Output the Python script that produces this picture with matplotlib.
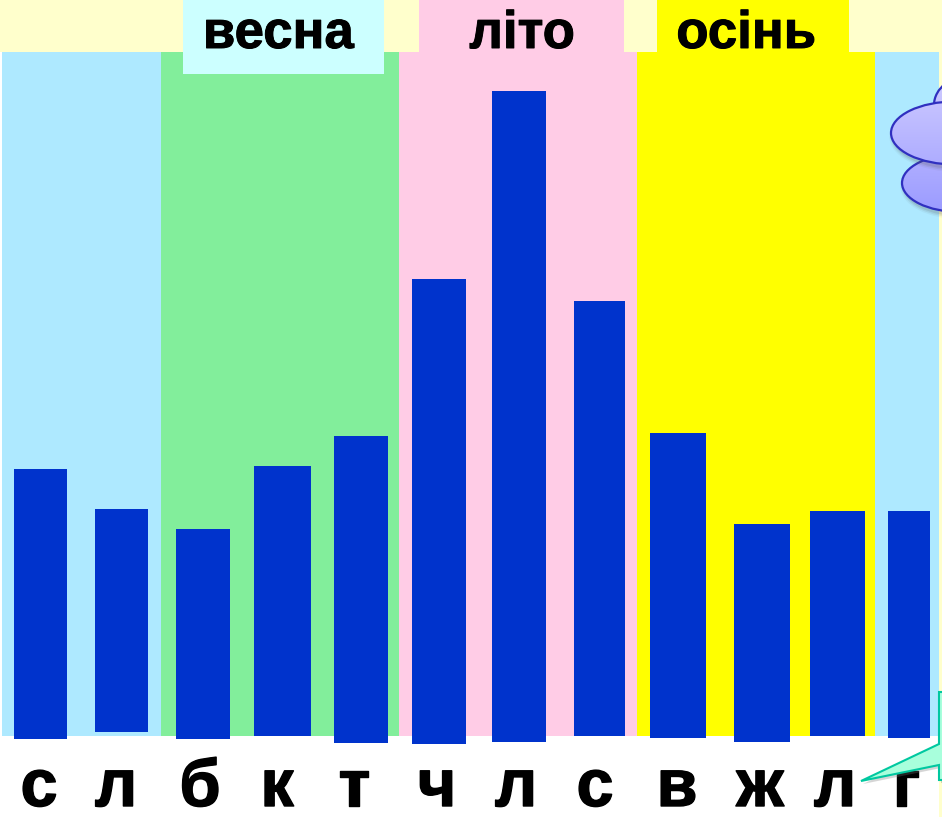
import numpy as np
import matplotlib
matplotlib.use("Agg")
import matplotlib.pyplot as plt
import matplotlib.patheffects as pe
from matplotlib.patches import Ellipse, Polygon, Rectangle

plt.rcParams["font.family"] = ["Liberation Sans", "DejaVu Sans"]

letters = ["с", "л", "б", "к", "т", "ч", "л", "с", "в", "ж", "л", "г"]
bar_heights = [270, 223, 210, 270, 307, 465, 651, 435, 305, 218, 225, 227]
seasons = ["весна", "літо", "осінь"]

# layout, in pixels of the picture
bar_left = [14, 95, 176, 254, 334, 412, 492, 574, 650, 734, 810, 888]
bar_width = [53, 53, 54, 57, 54, 54, 54, 51, 56, 56, 55, 42]
bar_bottom = [739, 732, 739, 736, 743, 744, 742, 736, 738, 742, 736, 738]
letter_x = [39, 116, 200, 277, 354, 437, 516, 595, 677, 760, 835, 906]

band_edges = [2, 161, 399, 637, 875, 939]
band_colors = ["#AEE9FF", "#82EE9B", "#FFCCE6", "#FFFF00", "#AEE9FF"]
label_boxes = [(183, 384, 74, "#CCFFFF"), (419, 624, 52, "#FFCCE6"), (657, 849, 52, "#FFFF00")]
label_x = [278, 522, 746]

fig = plt.figure(figsize=(9.42, 8.17), dpi=100)
ax = fig.add_axes([0, 0, 1, 1])
ax.set_xlim(0, 942)
ax.set_ylim(817, 0)
ax.axis("off")

# top strip and right edge
ax.add_patch(Rectangle((0, 0), 942, 52, color="#FFFFCC", lw=0, zorder=1))
ax.add_patch(Rectangle((939, 0), 3, 817, color="#FFFFCC", lw=0, zorder=1))

# season bands
for i, c in enumerate(band_colors):
    ax.add_patch(Rectangle((band_edges[i], 52), band_edges[i + 1] - band_edges[i], 684,
                           color=c, lw=0, zorder=2))

# season labels
for (x0, x1, y1, c), name, x in zip(label_boxes, seasons, label_x):
    ax.add_patch(Rectangle((x0, 0), x1 - x0, y1, color=c, lw=0, zorder=3))
    ax.text(x, 48, name, fontsize=38, fontweight="bold", ha="center", va="baseline",
            color="black", zorder=4,
            path_effects=[pe.withStroke(linewidth=0.7, foreground="black")])

# bars
tops = [b - h for b, h in zip(bar_bottom, bar_heights)]
ax.bar(bar_left, bar_heights, width=bar_width, bottom=tops, align="edge",
       color="#0033CC", linewidth=0, zorder=5)

# letters under the bars
for x, s in zip(letter_x, letters):
    ax.text(x, 806, s, fontsize=48, fontweight="bold", ha="center", va="baseline",
            color="black", zorder=6,
            path_effects=[pe.withStroke(linewidth=1, foreground="black")])

# cloud on the right edge, one gradient over all the lobes
grad = np.linspace(0, 1, 256).reshape(-1, 1)
cmap = matplotlib.colors.LinearSegmentedColormap.from_list("cloud", ["#D4D0FF", "#9A9AFF"])
lobes = [(975, 105, 82, 62), (960, 183, 116, 58), (955, 133, 128, 63)]
for k, (cx, cy, w, h) in enumerate(lobes):
    for grow, alpha in [(7, 0.06), (4, 0.1), (1, 0.14)]:
        ax.add_patch(Ellipse((cx + 2, cy + 4), w + grow, h + grow, color="#555555", alpha=alpha,
                             lw=0, zorder=6 + k * 0.1))
    e = Ellipse((cx, cy), w, h, facecolor="none", edgecolor="#3030C0", lw=1.6, zorder=6.05 + k * 0.1)
    ax.add_patch(e)
    im = ax.imshow(grad, extent=(860, 1000, 215, 65), cmap=cmap, aspect="auto",
                   zorder=6.03 + k * 0.1)
    im.set_clip_path(e)
ax.set_xlim(0, 942)
ax.set_ylim(817, 0)

# callout pointing at the letters
callout = [(939, 692), (960, 692), (960, 780), (939, 780), (939, 765), (861, 781), (939, 744)]
ax.add_patch(Polygon([(x + 2, y + 3) for x, y in callout], color="#777777", alpha=0.3, lw=0, zorder=7))
ax.add_patch(Polygon(callout, facecolor="#A8FFDC", edgecolor="#00C8A0", lw=1.5,
                     joinstyle="miter", zorder=7.1))

fig.savefig("out.png", dpi=100)
plt.close()
